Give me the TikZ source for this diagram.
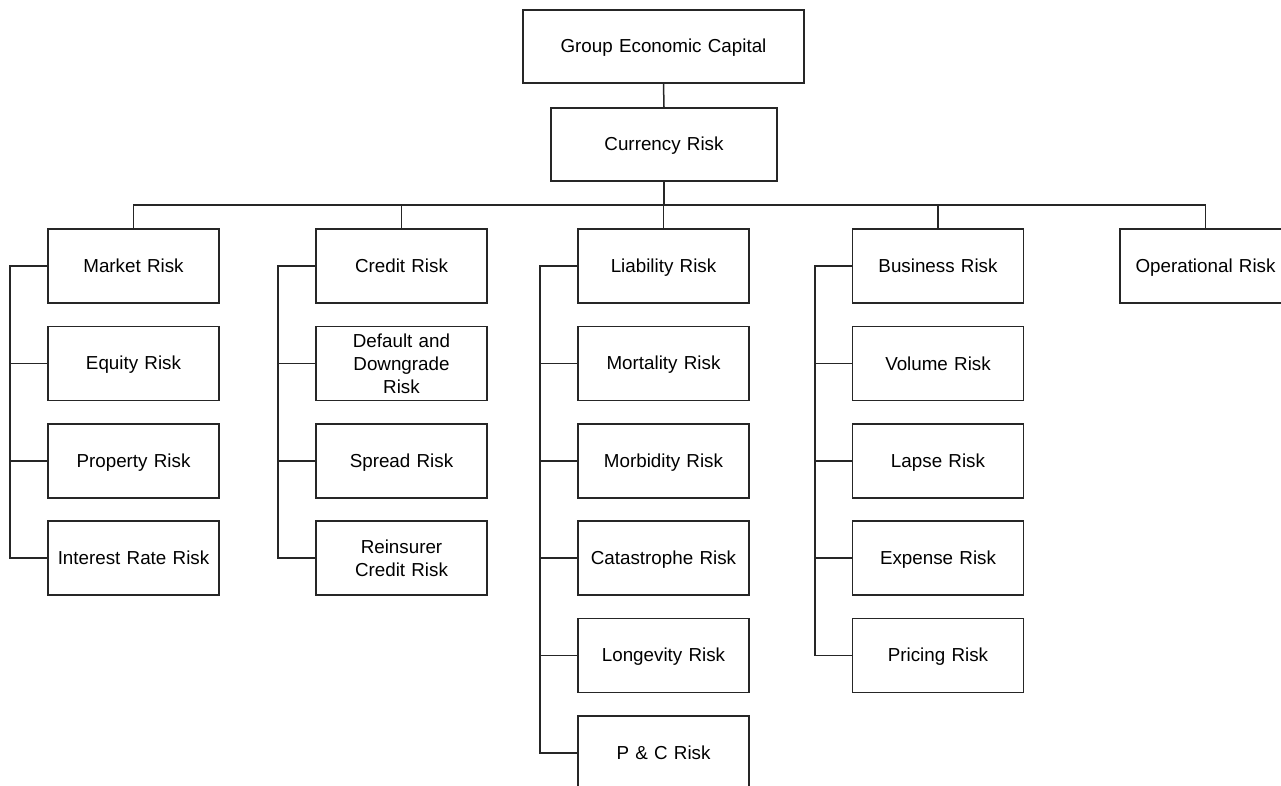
\documentclass[tikz,border=0pt]{standalone}
\usepackage{fontspec}
\setmainfont{Liberation Sans}
\newcommand\boxstrut{\rule[-3pt]{0pt}{19.5pt}}
\begin{document}
\begin{tikzpicture}[x=1pt,y=-1pt,
  box/.style={draw=black!85, line width=1.5pt, minimum width=171pt, minimum height=74pt,
    inner sep=2pt, align=center, text width=165pt,
    font=\fontsize{18.8}{23}\selectfont,
    execute at begin node=\boxstrut, execute at end node=\boxstrut},
  link/.style={draw=black!85, line width=1.5pt}]
\useasboundingbox (0,0) rectangle (1281,785);
% top
\node[box, minimum width=281pt, text width=270pt, minimum height=73pt] (gec) at (663.5,46.5) {Group Economic Capital};
\node[box, minimum width=226pt, text width=220pt, minimum height=73pt] (cur) at (664,144.5) {Currency Risk};
% level 1
\node[box] (mkt) at (133.5,266) {Market Risk};
\node[box] (crd) at (401.5,266) {Credit Risk};
\node[box] (lia) at (663.5,266) {Liability Risk};
\node[box] (bus) at (938,266) {Business Risk};
\node[box] (ops) at (1205.5,266) {Operational Risk};
% market
\node[box] (eq) at (133.5,363.5) {Equity Risk};
\node[box] (pr) at (133.5,461) {Property Risk};
\node[box] (ir) at (133.5,558) {Interest Rate Risk};
% credit
\node[box] (dd) at (401.5,363.5) {Default and\\Downgrade\\Risk};
\node[box] (sp) at (401.5,461) {Spread Risk};
\node[box] (rc) at (401.5,558) {Reinsurer\\Credit Risk};
% liability
\node[box] (mo) at (663.5,363.5) {Mortality Risk};
\node[box] (mb) at (663.5,461) {Morbidity Risk};
\node[box] (ca) at (663.5,558) {Catastrophe Risk};
\node[box] (lo) at (663.5,655.5) {Longevity Risk};
\node[box] (pc) at (663.5,753) {P \& C Risk};
% business
\node[box] (vo) at (938,363.5) {Volume Risk};
\node[box] (la) at (938,461) {Lapse Risk};
\node[box] (ex) at (938,558) {Expense Risk};
\node[box] (pi) at (938,655.5) {Pricing Risk};
% trunk
\coordinate (hub) at (664,205);
\draw[link] (gec.south) -- (cur.north);
\draw[link] (cur.south) -- (hub);
\foreach \n in {mkt,crd,lia,bus,ops} \draw[link] (\n.north) |- (hub);
% spines
\coordinate (ms) at (10,266);
\coordinate (cs) at (278,266);
\coordinate (ls) at (540,266);
\coordinate (bs) at (815,266);
\draw[link] (mkt.west) -- (ms) |- (ir.west);
\foreach \n in {eq,pr} \draw[link] (\n.west) -- (\n.west -| ms);
\draw[link] (crd.west) -- (cs) |- (rc.west);
\foreach \n in {dd,sp} \draw[link] (\n.west) -- (\n.west -| cs);
\draw[link] (lia.west) -- (ls) |- (pc.west);
\foreach \n in {mo,mb,ca,lo} \draw[link] (\n.west) -- (\n.west -| ls);
\draw[link] (bus.west) -- (bs) |- (pi.west);
\foreach \n in {vo,la,ex} \draw[link] (\n.west) -- (\n.west -| bs);
\end{tikzpicture}
\end{document}
